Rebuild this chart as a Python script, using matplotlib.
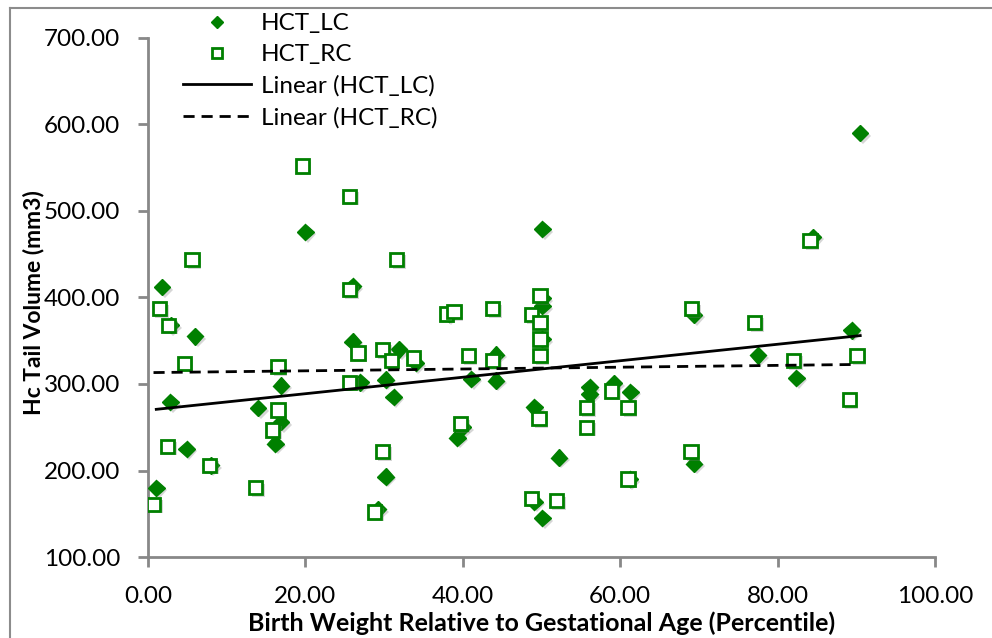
import numpy as np
import matplotlib
matplotlib.use("Agg")
import matplotlib.pyplot as plt
from matplotlib import patheffects as pe
from matplotlib.lines import Line2D

plt.rcParams['font.family'] = ['Lato', 'DejaVu Sans']

# Birth-weight percentile vs. Hc tail volume, left and right sides
lc_x = [1.05, 1.8, 2.85, 2.9, 4.9, 6.0, 8.0, 14.0, 16.2, 16.9, 16.9, 20.0,
        26.0, 26.0, 27.0, 29.2, 30.2, 30.2, 31.2, 31.9, 34.0, 38.2, 39.3,
        40.0, 41.1, 44.2, 44.2, 49.1, 49.1, 50.1, 50.1, 50.1, 50.1, 50.1,
        52.2, 56.1, 56.1, 59.2, 61.3, 61.2, 69.4, 69.4, 77.5, 82.4, 84.5,
        89.4, 90.5]
lc_y = [180, 412, 279, 368, 225, 355, 206, 272, 231, 256, 298, 476,
        413, 349, 302, 155, 305, 193, 285, 340, 324, 381, 238,
        250, 306, 334, 304, 273, 164, 479, 399, 390, 352, 145,
        215, 296, 288, 301, 291, 190, 380, 208, 333, 307, 470,
        362, 590]

rc_x = [0.7, 1.45, 2.5, 2.6, 4.6, 5.6, 7.8, 13.7, 15.8, 16.5, 16.5, 19.6,
        25.6, 25.6, 25.6, 26.7, 28.8, 29.8, 29.8, 30.9, 31.6, 33.7, 37.9,
        38.9, 39.7, 40.7, 43.8, 43.8, 48.7, 48.7, 49.8, 49.8, 49.8, 49.8,
        49.7, 51.9, 55.7, 55.7, 58.9, 61.0, 61.0, 69.1, 69.0, 77.1, 82.0,
        84.1, 89.1, 90.1]
rc_y = [161, 387, 228, 368, 324, 444, 206, 180, 247, 320, 270, 552,
        517, 409, 302, 336, 152, 340, 222, 327, 444, 330, 381,
        384, 254, 333, 387, 327, 380, 168, 402, 371, 352, 333,
        260, 165, 273, 250, 292, 273, 190, 387, 222, 371, 327,
        466, 282, 333]

series_names = ['HCT_LC', 'HCT_RC']
x_ticks = [0, 20, 40, 60, 80, 100]
y_ticks = [100, 200, 300, 400, 500, 600, 700]

GREEN = '#008000'
AXIS_GREY = '#888888'

W, H = 992, 638
fig = plt.figure(figsize=(W / 100, H / 100), dpi=100)
fig.patch.set_facecolor('white')

# chart-area frame (left and top edges)
fig.add_artist(Line2D([10 / W, 10 / W], [0, 1 - 8 / H], color='#8c8c8c',
                      lw=1.5, transform=fig.transFigure))
fig.add_artist(Line2D([10 / W, 1], [1 - 8 / H, 1 - 8 / H], color='#8c8c8c',
                      lw=1.5, transform=fig.transFigure))

left, right = 148 / W, 935 / W
bottom, top = (H - 557) / H, (H - 38) / H
ax = fig.add_axes([left, bottom, right - left, top - bottom])

shadow = [pe.SimplePatchShadow(offset=(1.8, -1.8), shadow_rgbFace='#7a7a7a',
                               alpha=0.3), pe.Normal()]

ax.plot(lc_x, lc_y, linestyle='none', marker='D', markersize=8.4,
        color=GREEN, markeredgecolor=GREEN, path_effects=shadow,
        label=series_names[0], zorder=3)
ax.plot(rc_x, rc_y, linestyle='none', marker='s', markersize=9.6,
        markerfacecolor='white', markeredgecolor=GREEN, markeredgewidth=2.0,
        path_effects=shadow, label=series_names[1], zorder=3)

# least-squares trend lines over each series' x-range
for xs, ys, ls, name in [(lc_x, lc_y, '-', series_names[0]),
                         (rc_x, rc_y, (0, (4, 2.5)), series_names[1])]:
    xs = np.asarray(xs, float)
    ys = np.asarray(ys, float)
    slope, icpt = np.polyfit(xs, ys, 1)
    xx = np.array([xs.min(), xs.max()])
    ax.plot(xx, slope * xx + icpt, color='black', lw=2.0, linestyle=ls,
            label=f'Linear ({name})', zorder=4)

ax.set_xlim(0, 100)
ax.set_ylim(100, 700)
ax.set_xticks(x_ticks)
ax.set_yticks(y_ticks)
ax.set_xticklabels([f'{v:.2f}' for v in x_ticks])
ax.set_yticklabels([f'{v:.2f}' for v in y_ticks])

for side in ['top', 'right']:
    ax.spines[side].set_visible(False)
for side in ['left', 'bottom']:
    ax.spines[side].set_color(AXIS_GREY)
    ax.spines[side].set_linewidth(2.0)

ax.tick_params(axis='both', direction='out', length=7, width=2.0,
               color=AXIS_GREY, labelsize=17.5, labelcolor='black')
ax.tick_params(axis='y', pad=13)
ax.tick_params(axis='x', pad=14)

ax.set_xlabel('Birth Weight Relative to Gestational Age (Percentile)',
              fontsize=18, fontweight='bold', labelpad=0)
ax.xaxis.set_label_coords(0.5, -(623 - 557) / (557 - 38), transform=ax.transAxes)
ax.xaxis.label.set_va('center')
ax.set_ylabel('Hc Tail Volume (mm3)', fontsize=16.5, fontweight='bold')
ax.yaxis.set_label_coords(-(148 - 34) / (935 - 148), 0.49, transform=ax.transAxes)
ax.yaxis.label.set_va('center')

leg = ax.legend(loc='upper left', bbox_to_anchor=(183 / W, 1 - 13 / H),
                bbox_transform=fig.transFigure, frameon=False, fontsize=17.5,
                handlelength=2.8, handletextpad=0.4, labelspacing=0.42,
                borderpad=0, borderaxespad=0, markerscale=0.7, numpoints=1)
for h in leg.legend_handles:
    h.set_path_effects([])

fig.savefig('out.png', dpi=100, facecolor='white')
